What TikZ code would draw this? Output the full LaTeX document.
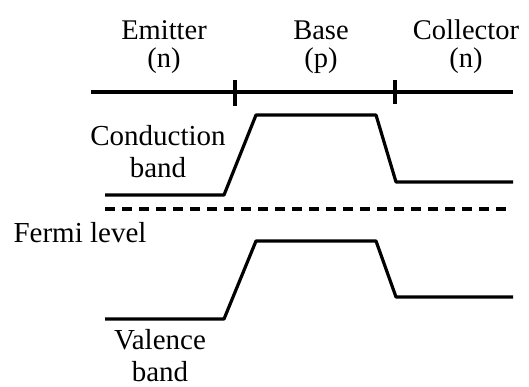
\documentclass[tikz,border=0pt]{standalone}
\usepackage{fontspec}
\setmainfont{Liberation Serif}
\begin{document}
\begin{tikzpicture}[x=1pt,y=-1pt,
  band/.style={line width=3.2pt,line join=round},
  axis/.style={line width=3.2pt},
  lbl/.style={font=\fontsize{29}{32}\selectfont,inner sep=0pt,align=center,anchor=base},
  toplbl/.style={font=\fontsize{28.5}{28}\selectfont,inner sep=0pt,align=center,anchor=base}]
\useasboundingbox (0,0) rectangle (529,387);
% axis
\coordinate (a0) at (91,92);
\coordinate (a1) at (513,92);
\draw[axis] (a0) -- (a1);
\coordinate (t1a) at (235,80); \coordinate (t1b) at (235,106);
\coordinate (t2a) at (395,80); \coordinate (t2b) at (395,104);
\draw[axis] (t1a) -- (t1b);
\draw[axis] (t2a) -- (t2b);
% labels top
\node[toplbl] (em) at (164,68) {Emitter\\(n)};
\node[toplbl] (ba) at (321,68) {Base\\(p)};
\node[toplbl] (co) at (466,68) {Collector\\(n)};
% conduction band
\coordinate (c0) at (105,195);
\coordinate (c1) at (224,195);
\coordinate (c2) at (256,115);
\coordinate (c3) at (376,115);
\coordinate (c4) at (396,182);
\coordinate (c5) at (513,182);
\draw[band] (c0) -- (c1) -- (c2) -- (c3) -- (c4) -- (c5);
% Fermi level
\coordinate (f0) at (105,209);
\coordinate (f1) at (513,209);
\draw[band,dash pattern=on 10pt off 7pt] (f0) -- (f1);
% valence band
\coordinate (v0) at (105,319);
\coordinate (v1) at (224,319);
\coordinate (v2) at (256,241);
\coordinate (v3) at (376,241);
\coordinate (v4) at (396,297);
\coordinate (v5) at (513,297);
\draw[band] (v0) -- (v1) -- (v2) -- (v3) -- (v4) -- (v5);
% band labels
\node[lbl] (cb) at (158,178) {Conduction\\band};
\node[lbl] (fl) at (80,242) {Fermi level};
\node[lbl] (vb) at (160,381) {Valence\\band};
\end{tikzpicture}
\end{document}
